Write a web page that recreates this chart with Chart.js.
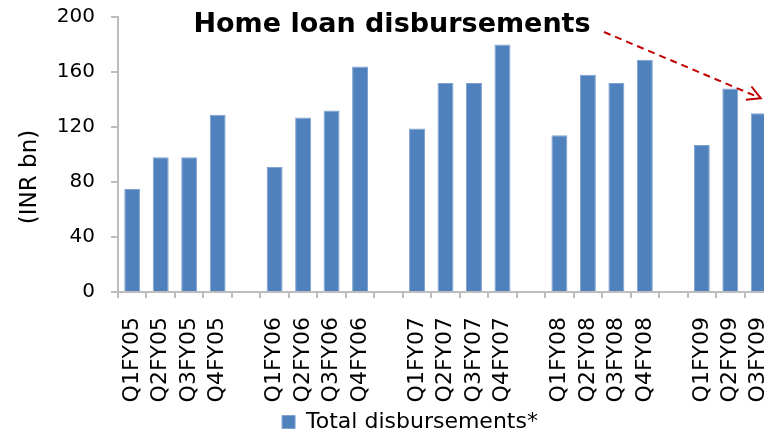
<!DOCTYPE html>
<html>
<head>
<meta charset="utf-8">
<script src="https://cdn.jsdelivr.net/npm/chart.js@4/dist/chart.umd.min.js"></script>
<style>
  html, body { margin: 0; padding: 0; background: #fff; overflow: hidden; }
  #wrap { width: 822px; height: 433px; }
</style>
</head>
<body>
<div id="wrap"><canvas id="chart-area" width="822" height="433"></canvas></div>
<script>
// empty strings are the spacer slots between fiscal years
const quarters = [
  'Q1FY05', 'Q2FY05', 'Q3FY05', 'Q4FY05', '',
  'Q1FY06', 'Q2FY06', 'Q3FY06', 'Q4FY06', '',
  'Q1FY07', 'Q2FY07', 'Q3FY07', 'Q4FY07', '',
  'Q1FY08', 'Q2FY08', 'Q3FY08', 'Q4FY08', '',
  'Q1FY09', 'Q2FY09', 'Q3FY09',
];
const disbursements = [
  75, 98, 98, 129, null,
  91, 127, 132, 164, null,
  119, 152, 152, 180, null,
  114, 158, 152, 169, null,
  107, 148, 130,
];
const seriesName = 'Total disbursements*';
const chartTitle = 'Home loan disbursements';
const axisTitle = '(INR bn)';
const yMin = 0;
const yMax = 200;
const yStep = 40;

const FONT = "'DejaVu Sans'";
const AXIS_GREY = '#bdbdbd';

const annotations = {
  id: 'annotations',
  afterDraw(chart) {
    const ctx = chart.ctx;

    // rotated y axis title
    ctx.save();
    ctx.translate(30, 177);
    ctx.rotate(-Math.PI / 2);
    ctx.font = '23px ' + FONT;
    ctx.fillStyle = '#000';
    ctx.textAlign = 'center';
    ctx.textBaseline = 'middle';
    ctx.fillText(axisTitle, 0, 0);
    ctx.restore();

    // chart title
    ctx.save();
    ctx.font = 'bold 27px ' + FONT;
    ctx.fillStyle = '#000';
    ctx.textAlign = 'center';
    ctx.textBaseline = 'alphabetic';
    ctx.fillText(chartTitle, 392, 32);
    ctx.restore();

    // red dashed arrow towards the latest quarter
    const bars = chart.getDatasetMeta(0).data;
    const last = bars[bars.length - 1];
    const x0 = 604, y0 = 32;
    const x1 = last.x + 2, y1 = last.y - 15;
    ctx.save();
    ctx.strokeStyle = '#c00000';
    ctx.lineWidth = 2;
    ctx.setLineDash([7, 5]);
    ctx.beginPath();
    ctx.moveTo(x0, y0);
    ctx.lineTo(x1, y1);
    ctx.stroke();
    ctx.setLineDash([]);
    const ang = Math.atan2(y1 - y0, x1 - x0);
    const head = 15;
    ctx.beginPath();
    ctx.moveTo(x1 - head * Math.cos(ang - 0.5), y1 - head * Math.sin(ang - 0.5));
    ctx.lineTo(x1, y1);
    ctx.lineTo(x1 - head * Math.cos(ang + 0.5), y1 - head * Math.sin(ang + 0.5));
    ctx.stroke();
    ctx.restore();
  },
};

function noPadding(scale) {
  scale.paddingTop = 0;
  scale.paddingBottom = 0;
}

const config = {
  type: 'bar',
  data: {
    labels: quarters,
    datasets: [{
      label: seriesName,
      data: disbursements,
      backgroundColor: '#4f81bd',
      borderColor: '#7fa2cf',
      borderWidth: 1,
      barPercentage: 0.56,
      categoryPercentage: 1,
    }],
  },
  options: {
    responsive: false,
    animation: false,
    layout: {
      // left padding only shifts the legend so it sits under the original (wider) plot
      padding: { left: 47, right: 49, top: 17, bottom: -10 },
    },
    plugins: {
      legend: {
        position: 'bottom',
        labels: {
          font: { family: FONT, size: 22 },
          color: '#000',
          boxWidth: 13,
          boxHeight: 13,
          padding: 8,
        },
      },
      title: { display: false },
      tooltip: { enabled: false },
    },
    scales: {
      x: {
        grid: {
          display: true,
          drawOnChartArea: false,
          drawTicks: true,
          tickLength: 6,
          color: AXIS_GREY,
          lineWidth: 2,
        },
        border: { color: AXIS_GREY, width: 2 },
        ticks: {
          font: { family: FONT, size: 22 },
          color: '#000',
          minRotation: 90,
          maxRotation: 90,
          padding: 19,
          autoSkip: false,
        },
        afterFit(scale) {
          scale.height = 111;
          noPadding(scale);
        },
      },
      y: {
        min: yMin,
        max: yMax,
        grid: {
          display: true,
          drawOnChartArea: false,
          drawTicks: true,
          tickLength: 7,
          color: AXIS_GREY,
          lineWidth: 2,
        },
        border: { color: AXIS_GREY, width: 2 },
        ticks: {
          stepSize: yStep,
          font: { family: FONT, size: 20 },
          color: '#000',
          padding: 16,
        },
        afterFit(scale) {
          scale.width = 71;
          noPadding(scale);
        },
      },
    },
  },
  plugins: [annotations],
};

window.myBar = new Chart(document.getElementById('chart-area').getContext('2d'), config);
</script>
</body>
</html>
